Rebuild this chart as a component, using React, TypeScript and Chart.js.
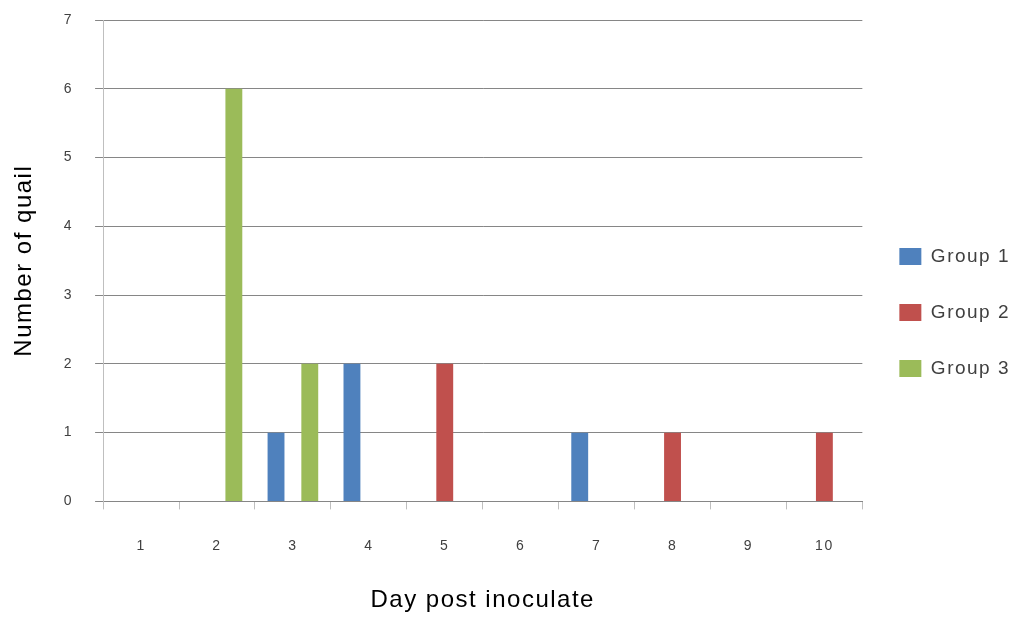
import React, { useEffect, useRef } from "react";
import { Chart, registerables } from "chart.js";

Chart.register(...registerables);

const days = ["1", "2", "3", "4", "5", "6", "7", "8", "9", "10"];
const group1 = [0, 0, 1, 2, 0, 0, 1, 0, 0, 0];
const group2 = [0, 0, 0, 0, 2, 0, 0, 1, 0, 1];
const group3 = [0, 6, 2, 0, 0, 0, 0, 0, 0, 0];
const seriesNames = ["Group 1", "Group 2", "Group 3"];
const seriesColors = ["#4F81BD", "#C0504D", "#9BBB59"];

const FONT = "'Liberation Sans', Arial, sans-serif";

const spacingPlugin = {
  id: "letterSpacing",
  beforeUpdate(chart: any) {
    (chart.ctx as any).letterSpacing = "1.5px";
  },
  beforeDraw(chart: any) {
    (chart.ctx as any).letterSpacing = "1.5px";
  },
};

export default function App() {
  const ref = useRef<HTMLCanvasElement>(null);
  useEffect(() => {
    if (!ref.current) return;
    const values = [group1, group2, group3];
    const chart = new Chart(ref.current, {
      type: "bar",
      data: {
        labels: days,
        datasets: values.map((v, i) => ({
          label: seriesNames[i],
          data: v,
          backgroundColor: seriesColors[i],
          borderWidth: 0,
          categoryPercentage: 0.667,
          barPercentage: 1,
        })),
      },
      plugins: [spacingPlugin],
      options: {
        animation: false,
        responsive: false,
        maintainAspectRatio: false,
        layout: { padding: { left: 10, top: 10, right: -6, bottom: 2 } },
        plugins: {
          tooltip: { enabled: false },
          legend: {
            position: "right",
            labels: {
              boxWidth: 22,
              boxHeight: 17,
              padding: 37,
              color: "#404040",
              font: { family: FONT, size: 19 },
            },
          },
        },
        scales: {
          x: {
            grid: {
              offset: true,
              drawOnChartArea: false,
              drawTicks: true,
              tickLength: 8,
              color: "#BFBFBF",
            },
            border: { display: true, color: "#868686" },
            ticks: {
              color: "#404040",
              padding: 28,
              font: { family: FONT, size: 14 },
            },
            title: {
              display: true,
              text: "Day post inoculate",
              color: "#000000",
              font: { family: FONT, size: 24 },
              padding: { top: 4, bottom: 0 },
            },
          },
          y: {
            min: 0,
            max: 7,
            afterFit(scale: any) {
              scale.paddingTop = 20;
              scale.paddingBottom = 0;
            },
            ticks: {
              stepSize: 1,
              color: "#404040",
              padding: 22,
              font: { family: FONT, size: 14 },
            },
            grid: {
              color: "#868686",
              drawTicks: true,
              tickLength: 8,
            },
            border: { display: true, color: "#BFBFBF" },
            title: {
              display: true,
              text: "Number of quail",
              color: "#000000",
              font: { family: FONT, size: 24 },
              padding: { top: 0, bottom: 3 },
            },
          },
        },
      },
    });
    return () => chart.destroy();
  }, []);
  return (
    <div style={{ position: "absolute", left: 0, top: 0, width: 1014, height: 617, background: "#fff" }}>
      <canvas ref={ref} width={1014} height={617} style={{ display: "block" }} />
    </div>
  );
}
